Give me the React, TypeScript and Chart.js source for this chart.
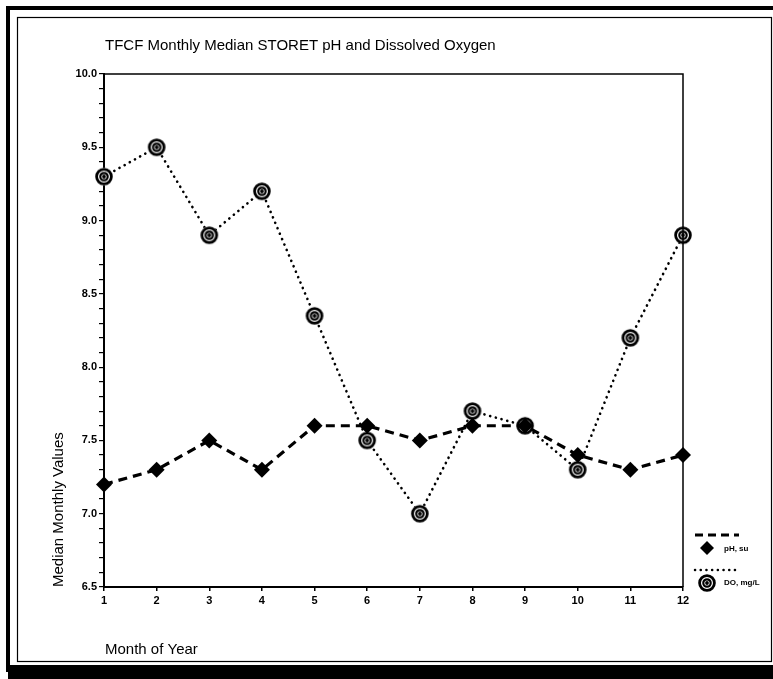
import React, { useEffect, useRef } from "react";
import { Chart, registerables } from "chart.js";

Chart.register(...registerables);

const months = [1, 2, 3, 4, 5, 6, 7, 8, 9, 10, 11, 12];
const phValues = [7.2, 7.3, 7.5, 7.3, 7.6, 7.6, 7.5, 7.6, 7.6, 7.4, 7.3, 7.4];
const doValues = [9.3, 9.5, 8.9, 9.2, 8.35, 7.5, 7.0, 7.7, 7.6, 7.3, 8.2, 8.9];
const yMajorTicks = [6.5, 7.0, 7.5, 8.0, 8.5, 9.0, 9.5, 10.0];

const titleText = "TFCF Monthly Median STORET pH and Dissolved Oxygen";
const yTitle = "Median Monthly Values";
const xTitle = "Month of Year";
const phLabel = "pH, su";
const doLabel = "DO, mg/L";

const FONT = '"Liberation Sans", Arial, sans-serif';

// double-ring marker used for dissolved oxygen
function makeRingMarker(): HTMLCanvasElement {
  const c = document.createElement("canvas");
  c.width = 20;
  c.height = 20;
  const g = c.getContext("2d")!;
  g.fillStyle = "#fff";
  g.beginPath();
  g.arc(10, 10, 9, 0, Math.PI * 2);
  g.fill();
  g.strokeStyle = "#000";
  g.lineWidth = 2.8;
  g.beginPath();
  g.arc(10, 10, 7.4, 0, Math.PI * 2);
  g.stroke();
  g.lineWidth = 2.2;
  g.beginPath();
  g.arc(10, 10, 3.7, 0, Math.PI * 2);
  g.stroke();
  g.fillStyle = "#000";
  g.beginPath();
  g.arc(10, 10, 1.9, 0, Math.PI * 2);
  g.fill();
  return c;
}

const ringMarker = typeof document !== "undefined" ? makeRingMarker() : (null as any);

const decorPlugin = {
  id: "decor",
  beforeDraw(chart: any) {
    const ctx = chart.ctx;
    ctx.save();
    ctx.fillStyle = "#fff";
    ctx.fillRect(0, 0, chart.width, chart.height);
    ctx.restore();
  },
  afterDraw(chart: any) {
    const ctx = chart.ctx as CanvasRenderingContext2D;
    const { left, right, top, bottom } = chart.chartArea;
    ctx.save();
    ctx.strokeStyle = "#000";
    ctx.fillStyle = "#000";

    // outer page frame
    ctx.lineWidth = 4;
    ctx.beginPath();
    ctx.moveTo(8, 672);
    ctx.lineTo(8, 8);
    ctx.lineTo(773, 8);
    ctx.stroke();
    ctx.fillRect(8, 665, 765, 14);
    ctx.lineWidth = 1.2;
    ctx.strokeRect(17.5, 17.5, 754, 644);

    // plot box top and right edges
    ctx.lineWidth = 1.5;
    ctx.beginPath();
    ctx.moveTo(left, top);
    ctx.lineTo(right, top);
    ctx.lineTo(right, bottom);
    ctx.stroke();

    // titles
    ctx.font = `15px ${FONT}`;
    ctx.textBaseline = "alphabetic";
    ctx.textAlign = "left";
    ctx.fillText(titleText, 105, 50);

    ctx.font = `15px ${FONT}`;
    ctx.fillText(xTitle, 105, 654);

    ctx.save();
    ctx.translate(63, 587);
    ctx.rotate(-Math.PI / 2);
    ctx.textAlign = "left";
    ctx.fillText(yTitle, 0, 0);
    ctx.restore();

    // legend
    const lx0 = 695;
    const lx1 = 739;
    ctx.lineWidth = 3;
    ctx.setLineDash([8, 5]);
    ctx.beginPath();
    ctx.moveTo(lx0, 535);
    ctx.lineTo(lx1, 535);
    ctx.stroke();
    ctx.lineWidth = 2.5;
    ctx.lineCap = "round";
    ctx.setLineDash([0.1, 5.6]);
    ctx.beginPath();
    ctx.moveTo(lx0, 570);
    ctx.lineTo(lx1, 570);
    ctx.stroke();
    ctx.setLineDash([]);
    ctx.lineCap = "butt";

    ctx.beginPath();
    ctx.moveTo(707, 541);
    ctx.lineTo(714, 548);
    ctx.lineTo(707, 555);
    ctx.lineTo(700, 548);
    ctx.closePath();
    ctx.fill();
    ctx.drawImage(ringMarker, 697, 573);

    ctx.font = `bold 8px ${FONT}`;
    ctx.textBaseline = "middle";
    ctx.fillText(phLabel, 724, 549);
    ctx.fillText(doLabel, 724, 583);
    ctx.restore();
  },
};

export default function App() {
  const ref = useRef<HTMLCanvasElement>(null);

  useEffect(() => {
    document.body.style.margin = "0";
    const chart = new Chart(ref.current!, {
      type: "line",
      data: {
        datasets: [
          {
            label: phLabel,
            data: months.map((m, i) => ({ x: m, y: phValues[i] })),
            borderColor: "#000",
            backgroundColor: "#000",
            borderWidth: 3.2,
            borderDash: [9, 6],
            pointStyle: "rectRot",
            pointRadius: 8,
            pointBorderWidth: 0,
            pointBackgroundColor: "#000",
            tension: 0,
            clip: false,
          },
          {
            label: doLabel,
            data: months.map((m, i) => ({ x: m, y: doValues[i] })),
            borderColor: "#000",
            borderWidth: 2.6,
            borderDash: [0.1, 5.8],
            borderCapStyle: "round",
            pointStyle: ringMarker,
            pointRadius: 9,
            tension: 0,
            clip: false,
          },
        ],
      },
      options: {
        animation: false,
        responsive: false,
        layout: { padding: { left: 0, top: 74, right: 90, bottom: 62 } },
        plugins: {
          legend: { display: false },
          title: { display: false },
          tooltip: { enabled: false },
        },
        scales: {
          x: {
            type: "linear",
            min: 1,
            max: 12,
            afterFit: (s: any) => {
              s.height = 30;
            },
            ticks: {
              stepSize: 1,
              color: "#000",
              font: { family: FONT, size: 11, weight: "bold" },
              padding: 3,
            },
            grid: {
              drawOnChartArea: false,
              drawTicks: true,
              tickLength: 4,
              color: "#000",
              lineWidth: 1.5,
            },
            border: { display: true, color: "#000", width: 2 },
          },
          y: {
            min: 6.5,
            max: 10.0,
            afterFit: (s: any) => {
              s.width = 104;
            },
            afterBuildTicks: (s: any) => {
              const t: any[] = [];
              for (let i = 0; i <= 35; i++) t.push({ value: +(6.5 + i * 0.1).toFixed(1) });
              s.ticks = t;
            },
            ticks: {
              color: "#000",
              font: { family: FONT, size: 11, weight: "bold" },
              padding: 2,
              autoSkip: false,
              callback: (v: any) => {
                const n = Number(v);
                return yMajorTicks.some((m) => Math.abs(m - n) < 1e-6) ? n.toFixed(1) : "";
              },
            },
            grid: {
              drawOnChartArea: false,
              drawTicks: true,
              tickLength: 5,
              color: "#000",
              lineWidth: 1.2,
            },
            border: { display: true, color: "#000", width: 2 },
          },
        },
      },
      plugins: [decorPlugin],
    });
    return () => chart.destroy();
  }, []);

  return (
    <div style={{ position: "fixed", left: 0, top: 0, width: 773, height: 679 }}>
      <canvas ref={ref} width={773} height={679} style={{ display: "block" }} />
    </div>
  );
}
